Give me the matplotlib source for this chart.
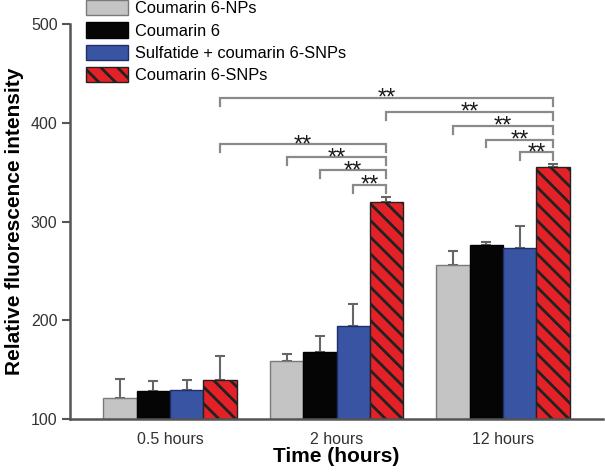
import matplotlib
matplotlib.use('Agg')
import matplotlib.pyplot as plt
import numpy as np

plt.rcParams['font.family'] = ['Liberation Sans', 'DejaVu Sans']
plt.rcParams['hatch.linewidth'] = 2.0
plt.rcParams['hatch.color'] = '#111111'

# Data
times = ['0.5 hours', '2 hours', '12 hours']
series = ['Coumarin 6-NPs', 'Coumarin 6', 'Sulfatide + coumarin 6-SNPs', 'Coumarin 6-SNPs']
nps = [121, 159, 256]
nps_err = [20, 7, 14]
c6 = [128, 168, 276]
c6_err = [10, 16, 3]
sulf = [129, 194, 273]
sulf_err = [10, 22, 22]
snps = [140, 320, 355]
snps_err = [24, 5, 3]

# Significance brackets: (group, bar) left end, (group, bar) right end, height
brackets = [
    ((0, 3), (2, 3), 425),
    ((1, 3), (2, 3), 411),
    ((2, 0), (2, 3), 397),
    ((2, 1), (2, 3), 383),
    ((2, 2), (2, 3), 370),
    ((0, 3), (1, 3), 378),
    ((1, 0), (1, 3), 365),
    ((1, 1), (1, 3), 352),
    ((1, 2), (1, 3), 337),
]

colors = ['#c4c4c4', '#050505', '#3a54a4', '#e42126']
edges = ['#7a7a7a', '#000000', '#1f2f66', '#222222']
hatches = [None, None, None, '\\\\']

values = [nps, c6, sulf, snps]
errors = [nps_err, c6_err, sulf_err, snps_err]

fig = plt.figure(figsize=(6.05, 4.72), dpi=100)
ax = fig.add_axes([70 / 605, 1 - 419 / 472, 533 / 605, 395 / 472])

x = np.arange(len(times))
width = 0.2
handles = []
for i in range(4):
    pos = x + (i - 1.5) * width
    b = ax.bar(pos, np.array(values[i]) - 100, width, bottom=100, color=colors[i],
               edgecolor=edges[i], linewidth=1.0, hatch=hatches[i], label=series[i],
               zorder=2)
    ax.errorbar(pos, values[i], yerr=[np.zeros(3), errors[i]], fmt='none',
                ecolor='#666666', elinewidth=1.5, capsize=3.5, capthick=1.5, zorder=1)
    handles.append(b)

def bar_x(g, k):
    return x[g] + (k - 1.5) * width

leg = 8
for (g1, k1), (g2, k2), h in brackets:
    x1 = bar_x(g1, k1)
    x2 = bar_x(g2, k2)
    ax.plot([x1, x1, x2, x2], [h - leg, h, h, h - leg], color='#8a8a8a', lw=1.6,
            solid_joinstyle='miter', clip_on=False)
    ax.text((x1 + x2) / 2, h - 7, '**', ha='center', va='baseline', fontsize=17,
            color='#1a1a1a')

ax.set_xlim(-0.6, 2.6)
ax.set_ylim(100, 500)
ax.set_yticks([100, 200, 300, 400, 500])
ax.set_xticks(x)
ax.set_xticklabels(times)
ax.tick_params(axis='x', length=0, pad=9, labelsize=11.5, labelcolor='#333333')
ax.tick_params(axis='y', length=6, width=1.5, color='#555555', labelsize=11.5,
               labelcolor='#333333', pad=3)
for s in ['top', 'right']:
    ax.spines[s].set_visible(False)
for s in ['left', 'bottom']:
    ax.spines[s].set_color('#555555')
    ax.spines[s].set_linewidth(1.8)

ax.set_xlabel('Time (hours)', fontsize=15, fontweight='bold', labelpad=0)
ax.set_ylabel('Relative fluorescence intensity', fontsize=15, fontweight='bold',
              labelpad=5)

fig.legend(handles=handles, labels=series, loc='upper left',
           bbox_to_anchor=(86 / 605, 1.0), frameon=False, fontsize=11.8,
           handlelength=2.55, handleheight=1.05, labelspacing=0.38,
           handletextpad=0.45, borderpad=0.0, borderaxespad=0.0)

fig.savefig('out.png', dpi=100)
